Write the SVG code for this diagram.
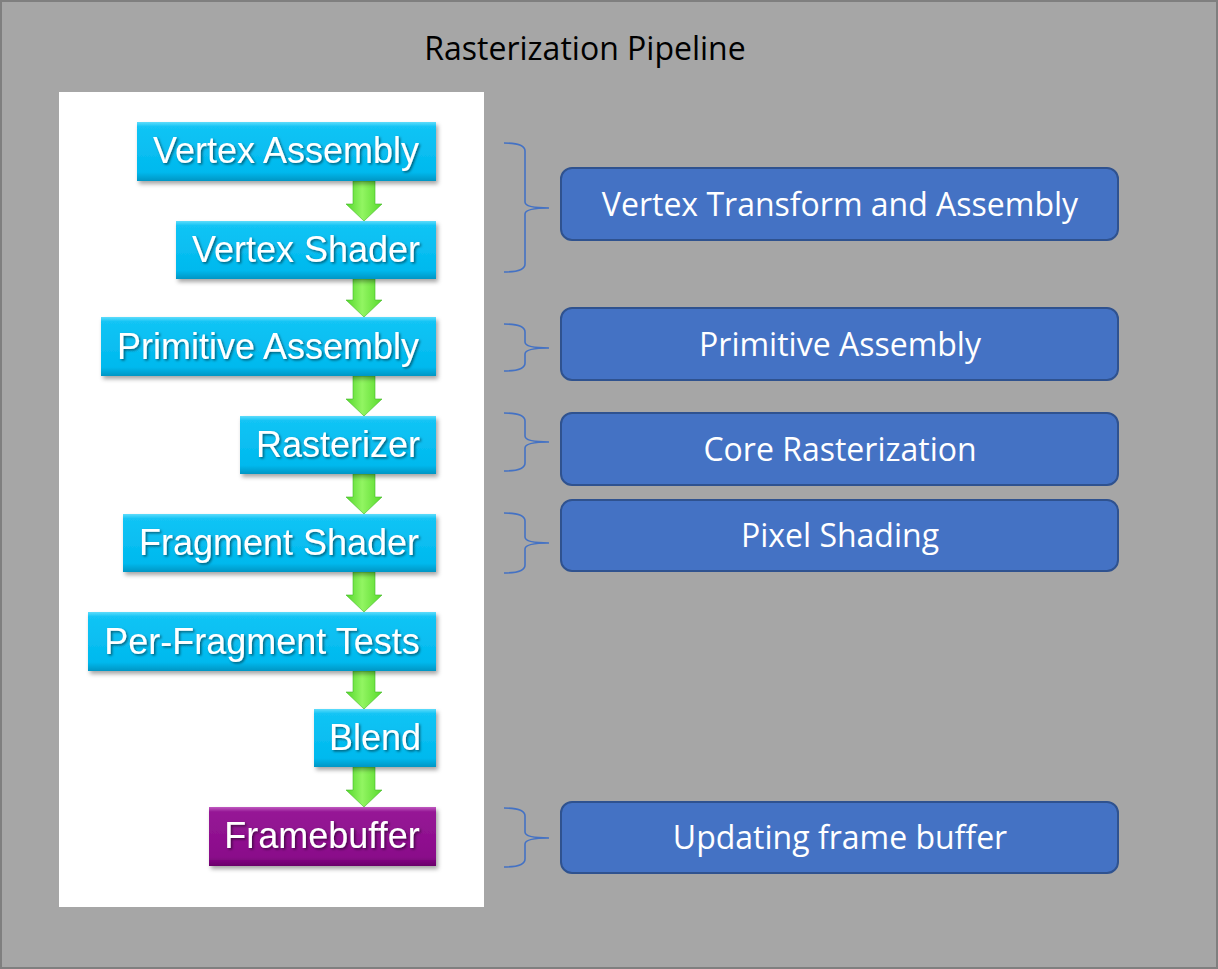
<svg xmlns="http://www.w3.org/2000/svg" width="1218" height="969" viewBox="0 0 1218 969">
<defs>
<linearGradient id="gCyan" x1="0" y1="0" x2="0" y2="1">
<stop offset="0" stop-color="#5fdcfb"/>
<stop offset="0.08" stop-color="#12c4f5"/>
<stop offset="0.85" stop-color="#00b9ee"/>
<stop offset="1" stop-color="#0096c4"/>
</linearGradient>
<linearGradient id="gPurple" x1="0" y1="0" x2="0" y2="1">
<stop offset="0" stop-color="#c05ac0"/>
<stop offset="0.08" stop-color="#961896"/>
<stop offset="0.85" stop-color="#8a0a8a"/>
<stop offset="1" stop-color="#6a006a"/>
</linearGradient>
<linearGradient id="gGreen" x1="0" y1="0" x2="1" y2="0">
<stop offset="0" stop-color="#55d82c"/>
<stop offset="0.45" stop-color="#92f562"/>
<stop offset="1" stop-color="#58da2c"/>
</linearGradient>
<filter id="shadow" x="-10%" y="-20%" width="130%" height="160%">
<feDropShadow dx="2" dy="3" stdDeviation="2" flood-color="#000" flood-opacity="0.35"/>
</filter>
<filter id="tshadow" x="-10%" y="-20%" width="130%" height="160%">
<feDropShadow dx="1.5" dy="1.5" stdDeviation="0.8" flood-color="#000" flood-opacity="0.5"/>
</filter>
</defs>
<style>
.stage rect.c{fill:url(#gCyan);filter:url(#shadow);}
.stage rect.p{fill:url(#gPurple);filter:url(#shadow);}
.stage text{font-family:"Liberation Sans",Arial,sans-serif;font-size:36px;fill:#ffffff;text-anchor:middle;filter:url(#tshadow);}
.phase rect{fill:#4472c4;stroke:#2f528f;stroke-width:2;}
.phase text{font-family:"Open Sans","Noto Sans",sans-serif;font-size:32px;fill:#ffffff;text-anchor:middle;}
.arrow{fill:url(#gGreen);stroke:#45b82a;stroke-width:0.6;}
.brace{fill:none;stroke:#4472c4;stroke-width:1.6;}
</style>
<rect x="1" y="1" width="1216" height="967" fill="#a6a6a6" stroke="#7f7f7f" stroke-width="2"/>
<text id="title" x="585" y="60" font-family="Open Sans, Noto Sans, sans-serif" font-size="32" fill="#000" text-anchor="middle">Rasterization Pipeline</text>
<rect id="panel" x="59" y="92" width="425" height="815" fill="#ffffff"/>

<g id="connectors">
<path class="arrow" d="M353,181 H375 V204 H382 L364,221 L346,204 H353 Z"/>
<path class="arrow" d="M353,279 H375 V300 H382 L364,317 L346,300 H353 Z"/>
<path class="arrow" d="M353,376 H375 V399 H382 L364,416 L346,399 H353 Z"/>
<path class="arrow" d="M353,474 H375 V497 H382 L364,514 L346,497 H353 Z"/>
<path class="arrow" d="M353,572 H375 V595 H382 L364,612 L346,595 H353 Z"/>
<path class="arrow" d="M353,671 H375 V692 H382 L364,709 L346,692 H353 Z"/>
<path class="arrow" d="M353,767 H375 V790 H382 L364,807 L346,790 H353 Z"/>
</g>

<g id="braces">
<path class="brace" d="M504,143 Q525,143 525,151 L525,202 Q525,208 549,208 Q525,208 525,214 L525,264 Q525,272 504,272"/>
<path class="brace" d="M504,324 Q525,324 525,332 L525,342 Q525,348 549,348 Q525,348 525,354 L525,363 Q525,371 504,371"/>
<path class="brace" d="M504,413 Q525,413 525,421 L525,436 Q525,442 549,442 Q525,442 525,448 L525,463 Q525,471 504,471"/>
<path class="brace" d="M504,513 Q525,513 525,521 L525,537 Q525,543 549,543 Q525,543 525,549 L525,565 Q525,573 504,573"/>
<path class="brace" d="M504,808 Q525,808 525,816 L525,832 Q525,838 549,838 Q525,838 525,844 L525,859 Q525,867 504,867"/>
</g>

<g id="n-vertex-assembly" class="stage"><rect class="c" x="137" y="122" width="299" height="59"/><text x="286" y="163">Vertex Assembly</text></g>
<g id="n-vertex-shader" class="stage"><rect class="c" x="176" y="221" width="260" height="58"/><text x="306" y="262">Vertex Shader</text></g>
<g id="n-primitive-assembly" class="stage"><rect class="c" x="101" y="317" width="335" height="59"/><text x="268" y="359">Primitive Assembly</text></g>
<g id="n-rasterizer" class="stage"><rect class="c" x="240" y="416" width="196" height="58"/><text x="338" y="457">Rasterizer</text></g>
<g id="n-fragment-shader" class="stage"><rect class="c" x="123" y="514" width="313" height="58"/><text x="279" y="555">Fragment Shader</text></g>
<g id="n-per-fragment-tests" class="stage"><rect class="c" x="88" y="612" width="348" height="59"/><text x="262" y="654">Per-Fragment Tests</text></g>
<g id="n-blend" class="stage"><rect class="c" x="314" y="709" width="122" height="58"/><text x="375" y="750">Blend</text></g>
<g id="n-framebuffer" class="stage"><rect class="p" x="209" y="807" width="227" height="59"/><text x="322" y="848">Framebuffer</text></g>

<g id="p-vertex-transform" class="phase"><rect x="561" y="168" width="557" height="72" rx="11"/><text x="840" y="216">Vertex Transform and Assembly</text></g>
<g id="p-primitive-assembly" class="phase"><rect x="561" y="308" width="557" height="72" rx="11"/><text x="840" y="356">Primitive Assembly</text></g>
<g id="p-core-rasterization" class="phase"><rect x="561" y="413" width="557" height="72" rx="11"/><text x="840" y="461">Core Rasterization</text></g>
<g id="p-pixel-shading" class="phase"><rect x="561" y="500" width="557" height="71" rx="11"/><text x="840" y="547">Pixel Shading</text></g>
<g id="p-updating-frame-buffer" class="phase"><rect x="561" y="802" width="557" height="71" rx="11"/><text x="840" y="849">Updating frame buffer</text></g>
</svg>
